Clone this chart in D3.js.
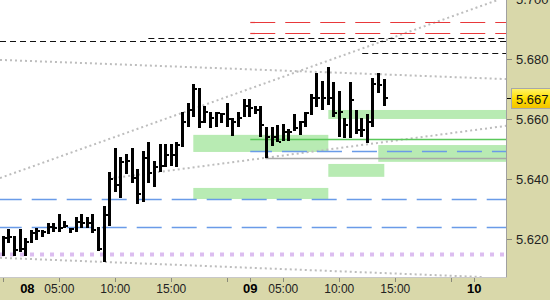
<!DOCTYPE html>
<html><head><meta charset="utf-8">
<script src="https://cdn.jsdelivr.net/npm/d3@7"></script>
<style>html,body{margin:0;padding:0;background:#fff;}svg{display:block;}</style>
</head><body>
<svg id="chart" width="550" height="300"></svg>
<script>
// ---- data (30-minute bars, slot index = bar index) ----
const highs  = [5.6211,5.6234,5.6211,5.6234,5.6203,5.6231,5.6237,5.6231,5.6253,5.6253,
                5.6284,5.6261,5.6239,5.6273,5.6284,5.6273,5.6284,5.6242,5.6311,5.6425,
                5.6505,5.6475,5.6484,5.6504,5.6433,5.6494,5.6525,5.6462,5.6518,5.6518,
                5.6518,5.6525,5.6625,5.6655,5.6718,5.6703,5.6644,5.6625,5.6625,5.6622,
                5.6655,5.6604,5.6625,5.6667,5.6667,5.6644,5.6644,5.6575,5.6575,5.6581,
                5.6584,5.6568,5.6618,5.6593,5.6624,5.6684,5.6755,5.6728,5.6775,5.6723,
                5.6694,5.6604,5.6724,5.6631,5.6603,5.6619,5.6736,5.6754,5.6734];
const lows   = [5.6144,5.6188,5.6144,5.6159,5.6144,5.6188,5.6198,5.6207,5.6218,5.6225,
                5.6225,5.6237,5.6220,5.6225,5.6237,5.6237,5.6220,5.6162,5.6125,5.6244,
                5.6356,5.6339,5.6418,5.6387,5.6319,5.6325,5.6389,5.6375,5.6425,5.6440,
                5.6444,5.6440,5.6509,5.6575,5.6609,5.6570,5.6589,5.6570,5.6575,5.6589,
                5.6575,5.6544,5.6575,5.6608,5.6609,5.6619,5.6541,5.6470,5.6510,5.6523,
                5.6528,5.6528,5.6561,5.6548,5.6575,5.6614,5.6640,5.6631,5.6648,5.6609,
                5.6542,5.6539,5.6539,5.6551,5.6541,5.6520,5.6575,5.6689,5.6645];
const closes = [5.6204,5.6209,5.6164,5.6167,5.6192,5.6222,5.6229,5.6224,5.6242,5.6237,
                5.6237,5.6244,5.6233,5.6259,5.6253,5.6253,5.6231,5.6167,5.6281,5.6400,
                5.6381,5.6457,5.6461,5.6403,5.6351,5.6472,5.6422,5.6442,5.6444,5.6481,
                5.6481,5.6514,5.6592,5.6631,5.6700,5.6592,5.6624,5.6603,5.6621,5.6616,
                5.6601,5.6592,5.6603,5.6643,5.6639,5.6631,5.6581,5.6542,5.6542,5.6525,
                5.6559,5.6558,5.6570,5.6591,5.6620,5.6672,5.6672,5.6672,5.6672,5.6622,
                5.6624,5.6581,5.6664,5.6564,5.6564,5.6592,5.6718,5.6714,5.6672];

const yTickValues = [5.620, 5.640, 5.660, 5.680, 5.700];
const xTickSlots  = [0, 10, 20, 30, 40, 44, 50, 60, 70, 80, 84];
const xTickLabels = ["", "05:00", "10:00", "15:00", "", "", "05:00", "10:00", "15:00", "", ""];
const daySlots    = [4.3, 44.1, 84.1];
const dayLabels   = ["08", "09", "10"];

// zones (green boxes): slot start / end (null = right edge), price top / bottom
const zoneStart  = [33.93, 58.04, 66.96, 58.04, 33.93];
const zoneEnd    = [58.04, null,  null,  68.04, 58.04];
const zoneTop    = [5.6548, 5.6631, 5.6514, 5.6451, 5.6371];
const zoneBottom = [5.6491, 5.6601, 5.6458, 5.6408, 5.6334];

// horizontal levels: price, start slot (null = left edge), kind
const levelPrice = [5.6923, 5.6887, 5.6870, 5.6860, 5.6820, 5.6533, 5.6493, 5.6470, 5.6333, 5.6240, 5.6151];
const levelStart = [44.1,   44.1,   25.9,   null,   64.1,   44.1,   44.1,   46.8,   null,   null,   null];
const levelKind  = ["red",  "red",  "black","black","black","green","blue", "gray", "blue", "blue", "purple"];

// dotted trend lines: (slot, price) -> (slot, price)
const trendS0 = [-0.59, -0.59, 19.64, -0.59];
const trendP0 = [5.6798, 5.6404, 5.6404, 5.6138];
const trendS1 = [89.77, 88.35, 89.77, 85.5];
const trendP1 = [5.6734, 5.6998, 5.6578, 5.6074];

const lastPrice = 5.667;

// ---- layout ----
const W = 550, H = 300, plotR = 506, plotB = 277;
const svg = d3.select("#chart");
const x = d3.scaleLinear().domain([-0.589, 89.77]).range([0, plotR]);
const y = d3.scaleLinear().domain([5.6074, 5.69977]).range([plotB, 0]);
const FONT = "'Liberation Sans', Arial, sans-serif";

const levelStyle = {
  red:    {stroke: "#e8383a", width: 1.2, dash: "25,10", offset: 0},
  black:  {stroke: "#111",    width: 1.2, dash: "6,4",   offset: 0},
  green:  {stroke: "#5ac85a", width: 1.5, dash: null,    offset: 0},
  blue:   {stroke: "#6a9be8", width: 1.5, dash: "25,10", offset: 3.3},
  gray:   {stroke: "#a8a8a8", width: 1.5, dash: null,    offset: 0},
  purple: {stroke: "#dcbdf0", width: 4,   dash: "4,6",   offset: 0}
};

// axis background
svg.append("rect").attr("x", 0).attr("y", 0).attr("width", W).attr("height", H).attr("fill", "#d9d8aa");
svg.append("rect").attr("x", 0).attr("y", 0).attr("width", plotR).attr("height", plotB).attr("fill", "#fff");

const defs = svg.append("defs");
defs.append("clipPath").attr("id", "clip").append("rect")
  .attr("x", 0).attr("y", 0).attr("width", plotR).attr("height", plotB);
const grad = defs.append("linearGradient").attr("id", "tag").attr("x1", 0).attr("y1", 0).attr("x2", 0).attr("y2", 1);
grad.append("stop").attr("offset", "0%").attr("stop-color", "#fff36a");
grad.append("stop").attr("offset", "50%").attr("stop-color", "#ffe000");
grad.append("stop").attr("offset", "100%").attr("stop-color", "#f2c200");

const plot = svg.append("g").attr("clip-path", "url(#clip)");

// zones
plot.selectAll("rect.zone").data(d3.range(zoneTop.length)).join("rect")
  .attr("class", "zone")
  .attr("x", i => x(zoneStart[i]))
  .attr("width", i => (zoneEnd[i] === null ? plotR : x(zoneEnd[i])) - x(zoneStart[i]))
  .attr("y", i => y(zoneTop[i]))
  .attr("height", i => y(zoneBottom[i]) - y(zoneTop[i]))
  .attr("fill", "#b8ebb3");

// trend lines
plot.selectAll("line.trend").data(d3.range(trendS0.length)).join("line")
  .attr("x1", i => x(trendS0[i])).attr("y1", i => y(trendP0[i]))
  .attr("x2", i => x(trendS1[i])).attr("y2", i => y(trendP1[i]))
  .attr("stroke", "#bdbdbd").attr("stroke-width", 2).attr("stroke-dasharray", "2,3");

// levels
plot.selectAll("line.level").data(d3.range(levelPrice.length)).join("line")
  .attr("x1", i => levelStart[i] === null ? 0 : x(levelStart[i]))
  .attr("x2", plotR)
  .attr("y1", i => Math.round(y(levelPrice[i])) + 0.5)
  .attr("y2", i => Math.round(y(levelPrice[i])) + 0.5)
  .attr("stroke", i => levelStyle[levelKind[i]].stroke)
  .attr("stroke-width", i => levelStyle[levelKind[i]].width)
  .attr("stroke-dasharray", i => levelStyle[levelKind[i]].dash)
  .attr("stroke-dashoffset", i => levelStyle[levelKind[i]].offset);

// OHLC bars (high-low bar + close tick)
const idx = d3.range(highs.length);
plot.selectAll("rect.bar").data(idx).join("rect")
  .attr("x", i => Math.round(x(i) - 1.5))
  .attr("width", 3)
  .attr("y", i => Math.round(y(highs[i])))
  .attr("height", i => Math.max(2, Math.round(y(lows[i])) - Math.round(y(highs[i]))))
  .attr("fill", "#000");
plot.selectAll("rect.close").data(idx).join("rect")
  .attr("x", i => Math.round(x(i) - 1.5) + 3)
  .attr("width", 2)
  .attr("y", i => Math.round(y(closes[i])) - 1)
  .attr("height", 2)
  .attr("fill", "#000");

// borders
svg.append("line").attr("x1", plotR + 0.5).attr("x2", plotR + 0.5).attr("y1", 0).attr("y2", plotB + 0.5)
  .attr("stroke", "#a0a0a0");
svg.append("line").attr("x1", 0).attr("x2", plotR + 0.5).attr("y1", plotB + 0.5).attr("y2", plotB + 0.5)
  .attr("stroke", "#c8c8c8");

// y axis
const yAxis = svg.append("g");
yAxis.selectAll("line").data(yTickValues).join("line")
  .attr("x1", plotR + 1).attr("x2", plotR + 6)
  .attr("y1", d => Math.round(y(d)) + 0.5).attr("y2", d => Math.round(y(d)) + 0.5)
  .attr("stroke", "#8a8a7a");
yAxis.selectAll("text").data(yTickValues).join("text")
  .attr("x", 516).attr("y", d => y(d) + 4.5)
  .attr("font-family", FONT).attr("font-size", 13).attr("fill", "#222")
  .text(d => d3.format(".3f")(d));

// x axis
const xAxis = svg.append("g");
xAxis.selectAll("line").data(xTickSlots).join("line")
  .attr("x1", d => Math.round(x(d)) + 0.5).attr("x2", d => Math.round(x(d)) + 0.5)
  .attr("y1", plotB + 1).attr("y2", plotB + 5)
  .attr("stroke", "#8a8a7a");
xAxis.selectAll("text.hour").data(d3.range(xTickSlots.length)).join("text")
  .attr("class", "hour")
  .attr("x", i => x(xTickSlots[i])).attr("y", 292.5)
  .attr("text-anchor", "middle")
  .attr("font-family", FONT).attr("font-size", 12).attr("fill", "#222")
  .text(i => xTickLabels[i]);
xAxis.selectAll("text.day").data(d3.range(dayLabels.length)).join("text")
  .attr("class", "day")
  .attr("x", i => x(daySlots[i])).attr("y", 293)
  .attr("text-anchor", "middle")
  .attr("font-family", FONT).attr("font-size", 13).attr("font-weight", "bold").attr("fill", "#000")
  .text(i => dayLabels[i]);

// last price tag
const ly = Math.round(y(lastPrice));
svg.append("line").attr("x1", plotR + 1).attr("x2", plotR + 5).attr("y1", ly + 0.5).attr("y2", ly + 0.5)
  .attr("stroke", "#000");
svg.append("rect").attr("x", 511.5).attr("y", ly - 10 + 0.5).attr("width", 40).attr("height", 20)
  .attr("fill", "url(#tag)").attr("stroke", "#a8a8a8");
svg.append("text").attr("x", 516).attr("y", ly + 6)
  .attr("font-family", FONT).attr("font-size", 13).attr("fill", "#111")
  .text(d3.format(".3f")(lastPrice));
</script>
</body></html>
